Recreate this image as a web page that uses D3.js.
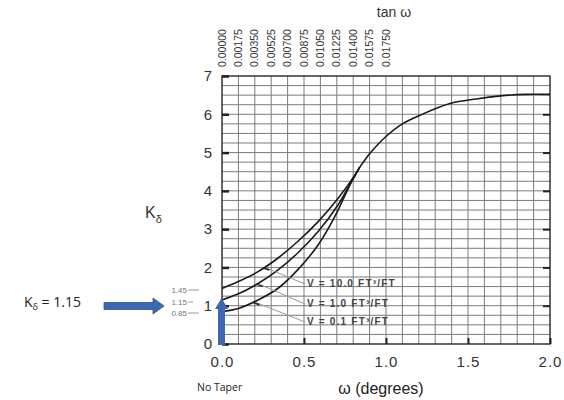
<!DOCTYPE html>
<html><head><meta charset="utf-8">
<script src="https://cdn.jsdelivr.net/npm/d3@7"></script>
<style>body{margin:0;background:#fff}svg{display:block}</style>
</head><body>
<svg id="c" width="564" height="400"></svg>
<script>
const xTicks = [0.0, 0.5, 1.0, 1.5, 2.0];
const yTicks = [0, 1, 2, 3, 4, 5, 6, 7];
const tanLabels = ["0.00000","0.00175","0.00350","0.00525","0.00700","0.00875","0.01050","0.01225","0.01400","0.01575","0.01750"];
const tanOmega = [0,0.1,0.2,0.3,0.4,0.5,0.6,0.7,0.8,0.9,1.0];
const omegaV10 = [0, 0.1, 0.22, 0.34, 0.46, 0.585, 0.707, 0.81, 0.84];
const kV10     = [1.45, 1.63, 1.89, 2.24, 2.67, 3.19, 3.80, 4.41, 4.62];
const omegaV1  = [0, 0.1, 0.22, 0.34, 0.46, 0.585, 0.707, 0.79, 0.84];
const kV1      = [1.15, 1.31, 1.58, 1.93, 2.37, 2.93, 3.63, 4.25, 4.62];
const omegaV01 = [0, 0.1, 0.22, 0.34, 0.46, 0.585, 0.687, 0.78, 0.84];
const kV01     = [0.85, 0.93, 1.15, 1.45, 1.93, 2.58, 3.32, 4.15, 4.62];
const omegaAll = [0.84, 0.87, 0.9, 1.0, 1.1, 1.21, 1.39, 1.55, 1.7, 1.85, 2.0];
const kAll     = [4.62, 4.80, 4.97, 5.42, 5.75, 5.98, 6.28, 6.40, 6.48, 6.52, 6.52];
const seriesLabels = ["V = 10.0 FT\u00B3/FT", "V = 1.0 FT\u00B3/FT", "V = 0.1 FT\u00B3/FT"];
const labelAt = [0.27, 0.23, 0.21]; // omega where leader lines meet curves
const startLabels = ["1.45", "1.15", "0.85"];
const kResult = 1.15;

const svg = d3.select("#c");
const x = d3.scaleLinear().domain([0, 2]).range([222, 550]);
const y = d3.scaleLinear().domain([0, 7]).range([344, 76]);
const font = "'Liberation Sans', Arial, sans-serif";

// grid
const g = svg.append("g");
g.selectAll(".vg").data(d3.range(1, 20).map(i => i / 10)).join("line")
  .attr("x1", d => x(d)).attr("x2", d => x(d)).attr("y1", y(7)).attr("y2", y(0))
  .attr("stroke", "#7a7a7a").attr("stroke-width", 1);
g.selectAll(".hg").data(d3.range(1, 28).map(i => i / 4)).join("line")
  .attr("x1", x(0)).attr("x2", x(2)).attr("y1", d => y(d)).attr("y2", d => y(d))
  .attr("stroke", "#7a7a7a").attr("stroke-width", 1);
// frame
svg.append("rect").attr("x", x(0)).attr("y", y(7)).attr("width", x(2) - x(0)).attr("height", y(0) - y(7))
  .attr("fill", "none").attr("stroke", "#333").attr("stroke-width", 1.5);

// y axis ticks inward, both sides
const yl = d3.axisLeft(y).tickValues(yTicks).tickSize(-7).tickPadding(10).tickFormat(d3.format("d"));
const yAx = svg.append("g").attr("transform", `translate(${x(0)},0)`).call(yl);
yAx.select(".domain").remove();
yAx.selectAll("line").attr("stroke", "#222").attr("stroke-width", 2.5);
yAx.selectAll("text").attr("font-family", font).attr("font-size", 15).attr("fill", "#333");
const yr = d3.axisRight(y).tickValues(yTicks.slice(1, 7)).tickSize(-7).tickFormat("");
const yrAx = svg.append("g").attr("transform", `translate(${x(2)},0)`).call(yr);
yrAx.select(".domain").remove();
yrAx.selectAll("line").attr("stroke", "#222").attr("stroke-width", 2);

// x axis
const xa = d3.axisBottom(x).tickValues(xTicks).tickSize(-6).tickPadding(12).tickFormat(d3.format(".1f"));
const xAx = svg.append("g").attr("transform", `translate(0,${y(0)})`).call(xa);
xAx.select(".domain").remove();
xAx.selectAll("line").attr("stroke", "#222").attr("stroke-width", 2);
xAx.selectAll("text").attr("font-family", font).attr("font-size", 15).attr("fill", "#333").attr("letter-spacing", 1);

// top tan axis labels
svg.append("g").selectAll("text").data(tanLabels).join("text")
  .attr("transform", (d, i) => `translate(${x(tanOmega[i]) + 3.5},67) rotate(-90)`)
  .attr("font-family", font).attr("font-size", 10.5).attr("fill", "#333").text(d => d);
svg.append("text").attr("x", 394).attr("y", 17).attr("text-anchor", "middle")
  .attr("font-family", font).attr("font-size", 14).attr("fill", "#333").text("tan \u03C9");

// curves
const line = d3.line().x(d => x(d[0])).y(d => y(d[1])).curve(d3.curveCatmullRom.alpha(0.5));
const series = [[omegaV10, kV10], [omegaV1, kV1], [omegaV01, kV01], [omegaAll, kAll]];
svg.append("g").selectAll("path").data(series).join("path")
  .attr("d", s => line(s[0].map((w, i) => [w, s[1][i]])))
  .attr("fill", "none").attr("stroke", "#1a1a1a").attr("stroke-width", 1.6);

// leader lines + labels
const interp = (ws, ks, w) => d3.scaleLinear().domain(ws).range(ks)(w);
const lab = svg.append("g");
const labY = [287, 307, 325];
[[omegaV10, kV10], [omegaV1, kV1], [omegaV01, kV01]].forEach((s, i) => {
  const w = labelAt[i], k = interp(s[0], s[1], w);
  lab.append("line").attr("x1", x(w)).attr("y1", y(k) + 2).attr("x2", 305).attr("y2", labY[i] - 3)
    .attr("stroke", "#9a9a9a").attr("stroke-width", 1);
  lab.append("line").attr("x1", x(w) - 3).attr("y1", y(k) + 2).attr("x2", x(w) + 3).attr("y2", y(k) + 4)
    .attr("stroke", "#222").attr("stroke-width", 1.5);
  lab.append("text").attr("x", 307).attr("y", labY[i]).attr("font-family", font)
    .attr("font-size", 10).attr("font-weight", "bold").attr("letter-spacing", 1.2)
    .attr("fill", "#444").text(seriesLabels[i]);
});

// start value labels on left
const sl = svg.append("g");
const slY = [290, 302, 313];
startLabels.forEach((t, i) => {
  sl.append("text").attr("x", 187).attr("y", slY[i] + 3).attr("text-anchor", "end")
    .attr("font-family", font).attr("font-size", 8).attr("fill", "#777").text(t);
  sl.append("line").attr("x1", 188).attr("x2", i === 1 ? 193 : 199).attr("y1", slY[i]).attr("y2", slY[i])
    .attr("stroke", "#999").attr("stroke-width", 1);
});

// y label
const kl = svg.append("text").attr("x", 145).attr("y", 218).attr("font-family", font)
  .attr("font-size", 16).attr("fill", "#333");
kl.append("tspan").text("K");
kl.append("tspan").attr("font-size", 11).attr("dy", 5).text("\u03B4");

// x label and No Taper
svg.append("text").attr("x", 381).attr("y", 394).attr("text-anchor", "middle").attr("font-family", font)
  .attr("font-size", 16).attr("fill", "#222").text("\u03C9 (degrees)");
svg.append("text").attr("x", 197).attr("y", 391).attr("font-family", "'Open Sans', sans-serif")
  .attr("font-size", 10.5).attr("fill", "#222").text("No Taper");

// K result text
const kr = svg.append("text").attr("x", 24).attr("y", 307).attr("font-family", "'Open Sans', sans-serif")
  .attr("font-size", 14).attr("fill", "#222");
kr.append("tspan").text("K");
kr.append("tspan").attr("font-size", 9).attr("dy", 3).text("\u03B4");
kr.append("tspan").attr("dy", -3).text(" = " + kResult.toFixed(2));

// blue arrows
const blue = "#3d67b3";
const ay = y(kResult) + 6;
svg.append("path").attr("d", `M104,${ay - 3.5} L153,${ay - 3.5} L153,${ay - 8} L164,${ay} L153,${ay + 8} L153,${ay + 3.5} L104,${ay + 3.5} Z`)
  .attr("fill", blue).attr("stroke", "#2c4f8f").attr("stroke-width", 0.8);
const vx = x(0) - 0.5, arrowTop = y(kResult) - 2;
svg.append("path").attr("d", `M${vx - 3.5},${y(0) + 1} L${vx - 3.5},${arrowTop + 11} L${vx - 6.5},${arrowTop + 11} L${vx},${arrowTop} L${vx + 6.5},${arrowTop + 11} L${vx + 3.5},${arrowTop + 11} L${vx + 3.5},${y(0) + 1} Z`)
  .attr("fill", blue);
</script>
</body></html>
